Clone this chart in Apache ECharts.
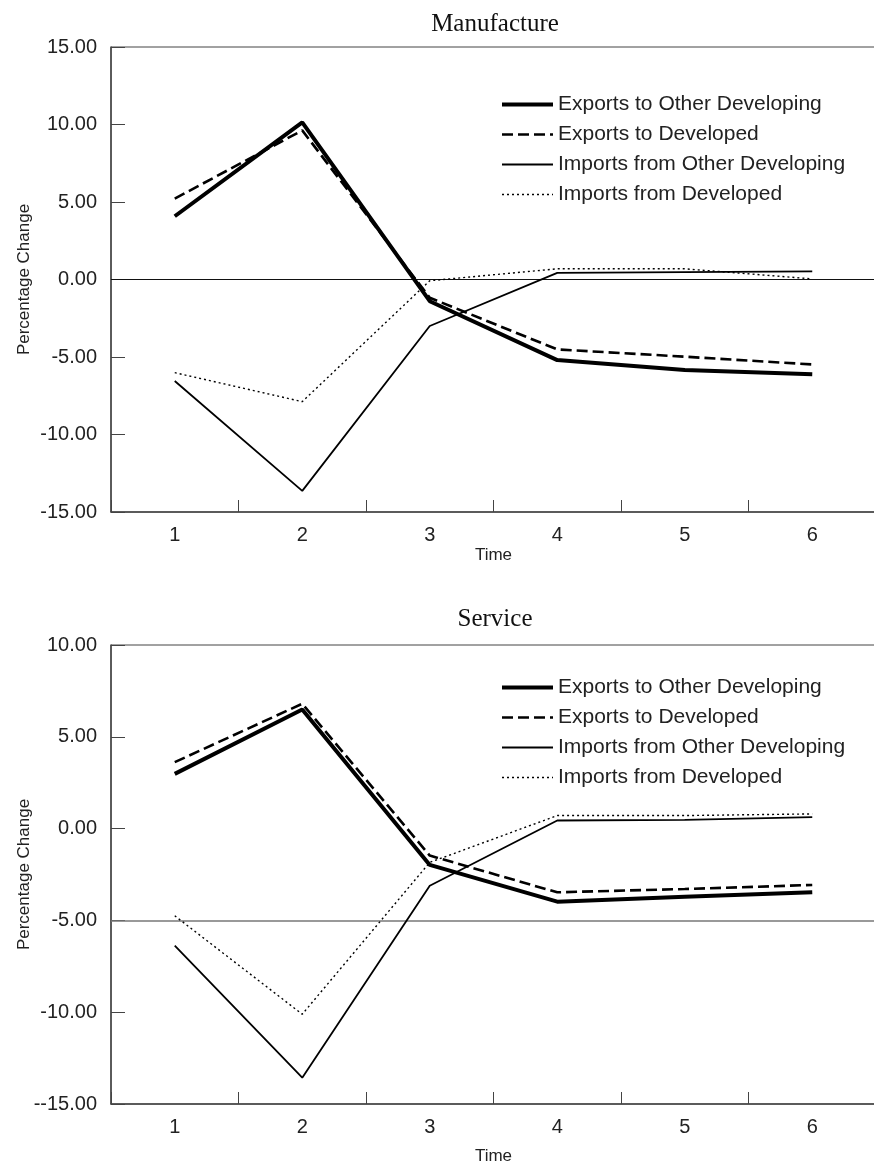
<!DOCTYPE html>
<html>
<head>
<meta charset="utf-8">
<script src="https://cdn.jsdelivr.net/npm/echarts@6/dist/echarts.min.js"></script>
<style>html,body{margin:0;padding:0;background:#fff;}#chart{width:874px;height:1170px;}</style>
</head>
<body>
<div id="chart"></div>
<script>
const categories = ['1', '2', '3', '4', '5', '6'];
const seriesNames = ['Exports to Other Developing', 'Exports to Developed', 'Imports from Other Developing', 'Imports from Developed'];

// Manufacture
const manExportsOtherDev = [4.08, 10.14, -1.40, -5.20, -5.84, -6.12];
const manExportsDev = [5.22, 9.62, -1.18, -4.51, -4.98, -5.48];
const manImportsOtherDev = [-6.55, -13.64, -3.00, 0.43, 0.47, 0.52];
const manImportsDev = [-6.01, -7.88, -0.08, 0.69, 0.69, 0.04];

// Service
const serExportsOtherDev = [2.98, 6.49, -1.98, -3.98, -3.71, -3.47];
const serExportsDev = [3.62, 6.80, -1.47, -3.47, -3.29, -3.07];
const serImportsOtherDev = [-6.38, -13.57, -3.11, 0.44, 0.47, 0.62];
const serImportsDev = [-4.75, -10.11, -1.84, 0.71, 0.71, 0.80];

const manYTickLabels = ['-15.00', '-10.00', '-5.00', '0.00', '5.00', '10.00', '15.00'];
const serYTickLabels = ['--15.00', '-10.00', '-5.00', '0.00', '5.00', '10.00'];
const manRefLine = 0;
const serRefLine = -5;

const styles = [
  { width: 4, type: 'solid' },
  { width: 2.6, type: [11, 5] },
  { width: 1.8, type: 'solid' },
  { width: 1.4, type: [2, 3] }
];

const FONT = '"Liberation Sans", Arial, Helvetica, sans-serif';
const grids = [
  { left: 111, top: 47, width: 765, height: 465, show: true, borderColor: '#444', borderWidth: 1, outerBoundsMode: 'none', containLabel: false },
  { left: 111, top: 645, width: 765, height: 459, show: true, borderColor: '#444', borderWidth: 1, outerBoundsMode: 'none', containLabel: false }
];

function xAxis(gi, nameGap) {
  return {
    type: 'category', gridIndex: gi, data: categories, boundaryGap: true,
    name: 'Time', nameLocation: 'middle', nameGap: nameGap, nameMoveOverlap: false,
    nameTextStyle: { fontFamily: FONT, fontSize: 17, color: '#222' },
    axisLine: { show: true, onZero: false, lineStyle: { color: '#444', width: 1.5 } },
    axisTick: { show: true, inside: true, length: 12, interval: 0, alignWithLabel: false, lineStyle: { color: '#444', width: 1 } },
    axisLabel: { fontFamily: FONT, fontSize: 20, color: '#222', margin: 13 },
    splitLine: { show: false }
  };
}
function yAxis(gi, min, max, labels) {
  return {
    type: 'value', gridIndex: gi, min: min, max: max, interval: 5,
    name: 'Percentage Change', nameLocation: 'middle', nameGap: 78, nameRotate: 90, nameMoveOverlap: false,
    nameTextStyle: { fontFamily: FONT, fontSize: 17, color: '#222' },
    axisLine: { show: true, onZero: false, lineStyle: { color: '#444', width: 1.5 } },
    axisTick: { show: true, inside: true, length: 14, lineStyle: { color: '#444' } },
    axisLabel: {
      fontFamily: FONT, fontSize: 20, color: '#222', margin: 14,
      formatter: function (v) { return labels[Math.round((v - min) / 5)]; }
    },
    splitLine: { show: false }
  };
}

function makeSeries(gi, arrays, refVal, refColor, refWidth) {
  return arrays.map(function (arr, i) {
    const s = {
      name: seriesNames[i], type: 'line', xAxisIndex: gi, yAxisIndex: gi,
      data: arr, symbol: 'none', showSymbol: false, smooth: false,
      lineStyle: { color: '#000', width: styles[i].width, type: styles[i].type },
      itemStyle: { color: '#000' },
      z: 5 - i
    };
    if (i === 0) {
      s.markLine = {
        silent: true, symbol: 'none', label: { show: false },
        lineStyle: { color: refColor, width: refWidth, type: 'solid' },
        data: [{ yAxis: refVal }], z: 1
      };
    }
    return s;
  });
}

function legend(top) {
  return {
    orient: 'vertical', left: 500, top: top, padding: 0,
    itemWidth: 51, itemHeight: 14, itemGap: 9, selectedMode: false,
    textStyle: { fontFamily: FONT, fontSize: 21, color: '#222', lineHeight: 20 },
    itemStyle: { opacity: 0 },
    data: seriesNames.map(function (n, i) {
      return {
        name: n,
        itemStyle: { opacity: 0 },
        lineStyle: { color: '#000', width: styles[i].width, type: styles[i].type }
      };
    })
  };
}

const chart = echarts.init(document.getElementById('chart'), null, { renderer: 'canvas' });
chart.setOption({
  animation: false,
  backgroundColor: '#fff',
  title: [
    { text: 'Manufacture', left: 490, top: 7, textAlign: 'center', textStyle: { fontFamily: '"Liberation Serif", "Times New Roman", serif', fontSize: 25, fontWeight: 'normal', color: '#111' } },
    { text: 'Service', left: 490, top: 602, textAlign: 'center', textStyle: { fontFamily: '"Liberation Serif", "Times New Roman", serif', fontSize: 25, fontWeight: 'normal', color: '#111' } }
  ],
  grid: grids,
  xAxis: [xAxis(0, 35), xAxis(1, 44)],
  yAxis: [yAxis(0, -15, 15, manYTickLabels), yAxis(1, -15, 10, serYTickLabels)],
  legend: [legend(94), legend(677)],
  series: makeSeries(0, [manExportsOtherDev, manExportsDev, manImportsOtherDev, manImportsDev], manRefLine, '#111', 1)
    .concat(makeSeries(1, [serExportsOtherDev, serExportsDev, serImportsOtherDev, serImportsDev], serRefLine, '#777', 1.5))
});
</script>
</body>
</html>
